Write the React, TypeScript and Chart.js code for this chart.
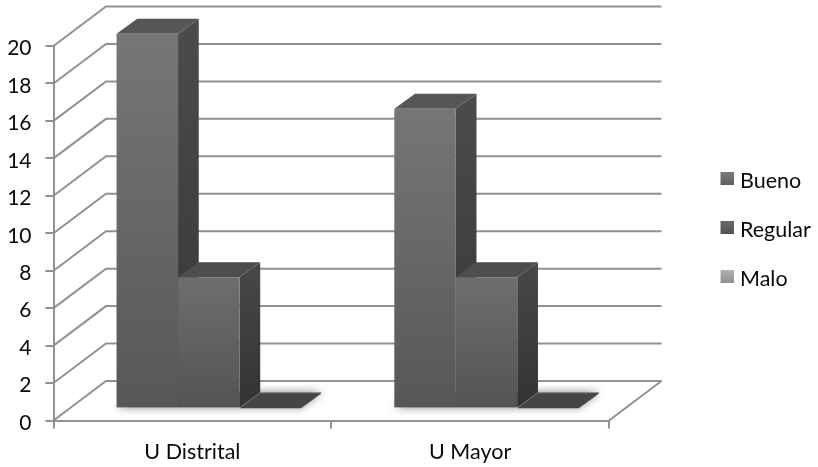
import React, { useEffect, useRef } from "react";
import { Chart, registerables } from "chart.js";

Chart.register(...registerables);

const categories = ["U Distrital", "U Mayor"];
const seriesNames = ["Bueno", "Regular", "Malo"];
const bueno = [20, 16];
const regular = [7, 7];
const malo = [0, 0];
const yTickStep = 2;

const frontTop = ["#767676", "#6e6e6e", "#a8a8a8"];
const frontBottom = ["#575757", "#535353", "#8c8c8c"];
const topColors = ["#565656", "#4e4e4e", "#454545"];
const sideTop = ["#4b4b4b", "#484848", "#444444"];
const sideBottom = ["#363636", "#333333", "#333333"];
const legendTop = ["#7c7c7c", "#6a6a6a", "#b0b0b0"];
const legendBottom = ["#5e5e5e", "#505050", "#909090"];

const FONT = "Lato, 'Open Sans', sans-serif";
const WALL_DX = 52.5;
const WALL_DY = -39.5;
const BAR_DX = 20.7;
const BAR_DY = -15;
const SHIFT_X = 16.4;
const SHIFT_Y = -12.2;
const GRID = "#919191";

function poly(ctx: CanvasRenderingContext2D, pts: number[][], fill: any) {
  ctx.beginPath();
  pts.forEach((p, i) => (i ? ctx.lineTo(p[0], p[1]) : ctx.moveTo(p[0], p[1])));
  ctx.closePath();
  ctx.fillStyle = fill;
  ctx.fill();
}

const wall3d = {
  id: "wall3d",
  beforeDatasetsDraw(chart: any) {
    const { ctx, chartArea: a, scales } = chart;
    const y = scales.y;
    ctx.save();
    ctx.strokeStyle = GRID;
    ctx.lineWidth = 2;
    y.ticks.forEach((t: any) => {
      const py = y.getPixelForValue(t.value);
      ctx.beginPath();
      ctx.moveTo(a.left, py);
      ctx.lineTo(a.left + WALL_DX, py + WALL_DY);
      ctx.lineTo(a.right + WALL_DX, py + WALL_DY);
      ctx.stroke();
    });
    ctx.beginPath();
    ctx.moveTo(a.right, a.bottom);
    ctx.lineTo(a.right + WALL_DX, a.bottom + WALL_DY);
    ctx.stroke();
    ctx.restore();

    ctx.save();
    ctx.translate(SHIFT_X, SHIFT_Y);
    const first = chart.getDatasetMeta(0).data;
    const last = chart.getDatasetMeta(2).data;
    first.forEach((bar: any, i: number) => {
      const l = bar.x - bar.width / 2;
      const end = last[i];
      const r = end.x + end.width / 2;
      const b = bar.base;
      ctx.save();
      ctx.shadowColor = "rgba(90,90,90,0.75)";
      ctx.shadowBlur = 9;
      poly(ctx, [[l, b], [r, b], [r + BAR_DX, b + BAR_DY], [l + BAR_DX, b + BAR_DY]], "#777777");
      ctx.restore();
    });
    // sides and tops go first, left to right; the library then paints the fronts over them
    chart.data.datasets.forEach((_: any, idx: number) => {
      chart.getDatasetMeta(idx).data.forEach((bar: any) => {
        const l = bar.x - bar.width / 2;
        const r = bar.x + bar.width / 2;
        const t = bar.y;
        const b = bar.base;
        if (b - t > 0.5) {
          const g = ctx.createLinearGradient(0, t + BAR_DY, 0, b);
          g.addColorStop(0, sideTop[idx]);
          g.addColorStop(1, sideBottom[idx]);
          poly(ctx, [[r, t], [r + BAR_DX, t + BAR_DY], [r + BAR_DX, b + BAR_DY], [r, b]], g);
        }
        poly(ctx, [[l, t], [r, t], [r + BAR_DX, t + BAR_DY], [l + BAR_DX, t + BAR_DY]], topColors[idx]);
      });
    });
  },
  afterDatasetsDraw(chart: any) {
    chart.ctx.restore();
  },
  afterDraw(chart: any) {
    const { ctx } = chart;
    ctx.save();
    const xs = 720.5;
    const ys = [179, 228, 277];
    chart.data.datasets.forEach((d: any, i: number) => {
      const top = ys[i] - 7;
      const g = ctx.createLinearGradient(0, top, 0, top + 13);
      g.addColorStop(0, legendTop[i]);
      g.addColorStop(1, legendBottom[i]);
      ctx.fillStyle = g;
      ctx.fillRect(xs, top, 13.5, 13);
      ctx.fillStyle = "#0a0a0a";
      ctx.font = `21.5px ${FONT}`;
      ctx.textBaseline = "middle";
      ctx.textAlign = "left";
      ctx.fillText(d.label, 740, ys[i] + 2);
    });
    ctx.restore();
  },
};

export default function App() {
  const ref = useRef<HTMLCanvasElement>(null);
  useEffect(() => {
    const gradientFor = (i: number) => (c: any) => {
      const chart = c.chart;
      const yScale = chart.scales.y;
      const raw = c.dataset && c.dataIndex !== undefined ? c.dataset.data[c.dataIndex] : undefined;
      if (!yScale || raw === undefined) return frontTop[i];
      const y0 = yScale.getPixelForValue(raw);
      const y1 = yScale.getPixelForValue(0);
      if (!Number.isFinite(y0) || !Number.isFinite(y1)) return frontTop[i];
      const g = chart.ctx.createLinearGradient(0, y0, 0, y1);
      g.addColorStop(0, frontTop[i]);
      g.addColorStop(1, frontBottom[i]);
      return g;
    };
    const values = [bueno, regular, malo];
    const chart = new Chart(ref.current!, {
      type: "bar",
      data: {
        labels: categories,
        datasets: seriesNames.map((label, i) => ({
          label,
          data: values[i],
          backgroundColor: gradientFor(i),
          borderWidth: 0,
          clip: false,
        })),
      } as any,
      options: {
        responsive: false,
        animation: false,
        categoryPercentage: 0.664,
        barPercentage: 1,
        layout: { padding: { top: 46, right: 209, bottom: 0, left: 0 } },
        plugins: { legend: { display: false }, tooltip: { enabled: false } },
        scales: {
          x: {
            grid: { drawOnChartArea: false, color: GRID, lineWidth: 2, tickLength: 8 },
            border: { color: GRID, width: 2 },
            ticks: { color: "#0a0a0a", font: { family: FONT, size: 21.5 }, padding: 11 },
            afterFit: (s: any) => {
              s.height = 46.5;
            },
          },
          y: {
            min: 0,
            max: 20,
            grid: { drawOnChartArea: false, color: GRID, lineWidth: 2, tickLength: 8 },
            border: { color: GRID, width: 2 },
            ticks: {
              stepSize: yTickStep,
              color: "#0a0a0a",
              font: { family: FONT, size: 21 },
              padding: 14,
              labelOffset: 2.5,
            },
            afterFit: (s: any) => {
              s.width = 53.5;
            },
          },
        },
      } as any,
      plugins: [wall3d],
    });
    return () => chart.destroy();
  }, []);
  return (
    <div style={{ position: "fixed", left: 0, top: 0, width: 818, height: 467, background: "#fff" }}>
      <canvas ref={ref} width={818} height={467} style={{ display: "block" }} />
    </div>
  );
}
